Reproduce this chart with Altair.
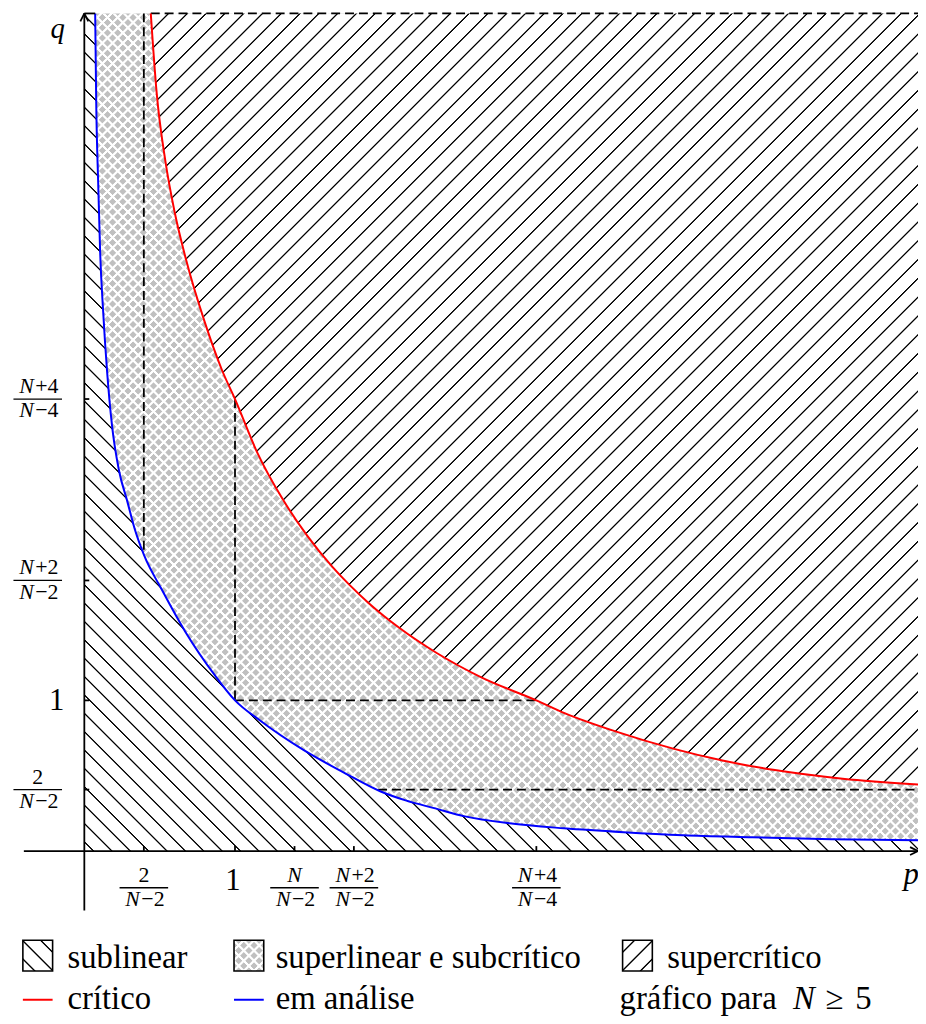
import math
import altair as alt
import pandas as pd

# ---------------- values ----------------
# blue curve ("em análise"), coordinates (p, q)
BLUE_P = [0.072, 0.079, 0.092, 0.105, 0.125, 0.151, 0.184, 0.230, 0.283, 0.336,
          0.395, 0.513, 0.671, 0.868, 1.000, 1.164, 1.454, 1.737, 1.967, 2.132,
          2.329, 2.526, 2.822, 3.184, 3.579, 3.974, 4.434, 4.961, 5.533]
BLUE_Q = [5.559, 4.961, 4.434, 3.974, 3.579, 3.184, 2.822, 2.526, 2.329, 2.132,
          1.967, 1.737, 1.454, 1.164, 1.000, 0.868, 0.671, 0.513, 0.395, 0.336,
          0.283, 0.230, 0.184, 0.151, 0.125, 0.105, 0.092, 0.079, 0.072]
# red curve ("crítico")
RED_P = [0.441, 0.480, 0.539, 0.599, 0.678, 0.796, 0.914, 1.000, 1.151, 1.316,
         1.480, 1.645, 1.763, 1.888, 2.092, 2.336, 2.638, 3.000, 3.191, 3.520,
         3.914, 4.243, 4.572, 5.033, 5.533]
RED_Q = [5.559, 5.033, 4.572, 4.243, 3.914, 3.520, 3.191, 3.000, 2.638, 2.336,
         2.092, 1.888, 1.763, 1.645, 1.480, 1.316, 1.151, 1.000, 0.914, 0.796,
         0.678, 0.599, 0.539, 0.480, 0.441]
Q_TOP = 5.559   # upper limit of the drawn region
P_END = 5.533   # right limit of the drawn region

X_TICKS = [0.395, 1.0, 1.395, 1.789, 3.0]
X_TICK_NUM = ["2", "1", "N", "N+2", "N+4"]
X_TICK_DEN = ["N−2", "", "N−2", "N−2", "N−4"]
Y_TICKS = [0.408, 1.0, 1.796, 3.0]
Y_TICK_NUM = ["2", "1", "N+2", "N+4"]
Y_TICK_DEN = ["N−2", "", "N−2", "N−4"]

# dashed guide segments
GUIDE_P1 = [0.395, 1.0, 1.0, 1.95, 0.441]
GUIDE_Q1 = [Q_TOP, 3.0, 1.0, 0.408, Q_TOP]
GUIDE_P2 = [0.395, 1.0, 3.0, P_END, P_END]
GUIDE_Q2 = [1.967, 1.0, 1.0, 0.408, Q_TOP]

LEGEND_AREAS = ["sublinear", "superlinear e subcrítico", "supercrítico"]
LEGEND_LINES = ["crítico", "em análise"]

# ---------------- layout ----------------
K = 152.0                 # pixels per unit (both axes)
OX, OY = 85.0, 854.0      # page position of the origin
W, H = 918, 1016
FONT = "Liberation Serif"


def ux(px):
    return (px - OX) / K


def uy(py):
    return (OY - py) / K


XS = alt.Scale(domain=[ux(8), ux(8 + W)], nice=False, zero=False)
YS = alt.Scale(domain=[uy(8 + H), uy(8)], nice=False, zero=False)


def ex(f):
    return alt.X(f, type="quantitative", scale=XS, axis=None)


def ey(f):
    return alt.Y(f, type="quantitative", scale=YS, axis=None)


def hatch(w, h, lines_dir, spacing, lw, ink, paper):
    r = math.sqrt(0.5)
    nx, ny = (r, -r) if lines_dir == "\\" else (r, r)
    a, b = nx * w, ny * h
    corners = [(0.0, 0.0), (1.0, 0.0), (0.0, 1.0), (1.0, 1.0)]
    s = [a * u + b * v for u, v in corners]
    i0 = s.index(min(s))
    L = max(s) - min(s)
    lam = L / (a * a + b * b)
    u0, v0 = corners[i0]
    stops = [alt.GradientStop(color=paper, offset=0)]
    half, edge = lw / 2.0, 0.35
    c = L / 2 - math.floor((L / 2) / spacing) * spacing
    while c < L:
        for off, col in [(c - half - edge, paper), (c - half + edge, ink),
                         (c + half - edge, ink), (c + half + edge, paper)]:
            o = round(min(max(off / L, 0.0), 1.0), 5)
            stops.append(alt.GradientStop(color=col, offset=o))
        c += spacing
    stops.append(alt.GradientStop(color=paper, offset=1))
    return alt.LinearGradient(gradient="linear", stops=stops,
                              x1=u0, y1=v0, x2=u0 + lam * a, y2=v0 + lam * b)


GRAY = "#c0c0c0"
CLEAR = "rgba(255,255,255,0)"
X_SP, X_LW = 7.3, 2.2     # cross-hatch spacing / white line width

# ---------------- regions ----------------
df_sub = pd.DataFrame({"p": [0.0] + BLUE_P, "lo": 0.0, "hi": [Q_TOP] + BLUE_Q})
df_gray = pd.DataFrame({"p": BLUE_P, "lo": BLUE_Q, "hi": Q_TOP})
df_sup = pd.DataFrame({"p": RED_P, "lo": RED_Q, "hi": Q_TOP})

w_sub, h_sub = P_END * K, Q_TOP * K
w_gray, h_gray = (P_END - min(BLUE_P)) * K, (Q_TOP - min(BLUE_Q)) * K
w_sup, h_sup = (P_END - min(RED_P)) * K, (Q_TOP - min(RED_Q)) * K


def area(df, fill):
    return alt.Chart(df).mark_area(fill=fill, interpolate="monotone", strokeWidth=0).encode(
        x=ex("p"), y=ey("lo"), y2=alt.Y2("hi"))


layers = [
    area(df_sub, hatch(w_sub, h_sub, "\\", 13.1, 1.3, "black", "white")),
    area(df_gray, hatch(w_gray, h_gray, "/", X_SP, X_LW, "white", GRAY)),
    area(df_gray, hatch(w_gray, h_gray, "\\", X_SP, X_LW, "white", CLEAR)),
    area(df_sup, hatch(w_sup, h_sup, "/", 13.4, 1.3, "black", "white")),
]

# dashed guides
df_guides = pd.DataFrame({"p1": GUIDE_P1, "q1": GUIDE_Q1, "p2": GUIDE_P2, "q2": GUIDE_Q2})
layers.append(alt.Chart(df_guides).mark_rule(color="black", strokeWidth=1.8, strokeDash=[9, 5]).encode(
    x=ex("p1"), y=ey("q1"), x2=alt.X2("p2"), y2=alt.Y2("q2")))

# curves
layers.append(alt.Chart(pd.DataFrame({"p": BLUE_P, "q": BLUE_Q})).mark_line(
    color="#0000ff", strokeWidth=2, interpolate="monotone").encode(x=ex("p"), y=ey("q")))
layers.append(alt.Chart(pd.DataFrame({"p": RED_P, "q": RED_Q})).mark_line(
    color="#ff0000", strokeWidth=2, interpolate="monotone").encode(x=ex("p"), y=ey("q")))

# axes, arrows, ticks
seg = []
seg.append((ux(24), 0.0, P_END, 0.0))                     # p axis
seg.append((0.0, uy(914), 0.0, uy(9)))                    # q axis
seg.append((0.0, Q_TOP, BLUE_P[0], Q_TOP))                # top edge of sublinear region
seg.append((0.0, uy(9), ux(81), uy(17)))                  # arrow q
seg.append((0.0, uy(9), ux(89), uy(17)))
seg.append((P_END, 0.0, ux(918), uy(850)))                # arrow p
seg.append((P_END, 0.0, ux(918), uy(858)))
for v in Y_TICKS:
    seg.append((0.0, v, ux(90), v))
for v in X_TICKS:
    seg.append((v, 0.0, v, uy(849)))
df_seg = pd.DataFrame(seg, columns=["p1", "q1", "p2", "q2"])
layers.append(alt.Chart(df_seg).mark_rule(color="black", strokeWidth=1.8).encode(
    x=ex("p1"), y=ey("q1"), x2=alt.X2("p2"), y2=alt.Y2("q2")))

# ---------------- text pieces: (x, y, text, size, style, align) ----------------
txt = []
bars = []
FS = 22


def put_part(cx, base, part):
    if part == "2":
        txt.append((cx, base, part, FS, "normal", "center"))
    elif part == "N":
        txt.append((cx, base, part, FS, "italic", "center"))
    else:
        txt.append((cx - 4 / K, base, part[0], FS, "italic", "right"))
        txt.append((cx - 2.5 / K, base, part[1:], FS, "normal", "left"))


def fraction(cx, bar, num, den):
    put_part(cx, bar + 6 / K, num)
    put_part(cx, bar - 18.5 / K, den)
    bars.append((cx - 24.5 / K, bar, cx + 24.5 / K, bar))


for v, n, d in zip(X_TICKS, X_TICK_NUM, X_TICK_DEN):
    if d:
        fraction(v, uy(891), n, d)
    else:
        txt.append((v - 2 / K, uy(893), n, 31, "normal", "center"))
for v, n, d in zip(Y_TICKS, Y_TICK_NUM, Y_TICK_DEN):
    if d:
        fraction(ux(38), v, n, d)
    else:
        txt.append((ux(57), v - 10 / K, n, 31, "normal", "center"))

txt.append((ux(58), uy(34), "q", 29, "italic", "center"))
txt.append((ux(919), uy(887), "p", 31, "italic", "center"))

# ---------------- legend ----------------
LS = 33
R1, R2 = 972, 1013
txt.append((ux(68), uy(R1), LEGEND_AREAS[0], LS, "normal", "left"))
txt.append((ux(278), uy(R1), LEGEND_AREAS[1], LS, "normal", "left"))
txt.append((ux(673), uy(R1), LEGEND_AREAS[2], LS, "normal", "left"))
txt.append((ux(68), uy(R2), LEGEND_LINES[0], LS, "normal", "left"))
txt.append((ux(278), uy(R2), LEGEND_LINES[1], LS, "normal", "left"))
txt.append((ux(625), uy(R2), "gráfico para", LS, "normal", "left"))
txt.append((ux(811), uy(R2), "N", LS, "italic", "center"))
txt.append((ux(842), uy(R2), "≥", LS, "normal", "center"))
txt.append((ux(871), uy(R2), "5", LS, "normal", "center"))

SW_Y1, SW_Y2 = 944, 975


def swatch(x1, fills, stroke):
    out = []
    df = pd.DataFrame({"a": [ux(x1)], "b": [ux(x1 + 30)], "c": [uy(SW_Y1)], "d": [uy(SW_Y2)]})
    for i, f in enumerate(fills):
        last = i == len(fills) - 1
        kw = dict(fill=f)
        if last:
            kw.update(stroke=stroke, strokeWidth=1.6)
        out.append(alt.Chart(df).mark_rect(**kw).encode(
            x=ex("a"), x2=alt.X2("b"), y=ey("c"), y2=alt.Y2("d")))
    return out


sw_w, sw_h = 30, SW_Y2 - SW_Y1
layers += swatch(23, [hatch(sw_w, sw_h, "\\", 13, 1.4, "black", "white")], "black")
layers += swatch(236, [hatch(sw_w, sw_h, "/", X_SP, X_LW, "white", GRAY),
                       hatch(sw_w, sw_h, "\\", X_SP, X_LW, "white", CLEAR)], "black")
layers += swatch(628, [hatch(sw_w, sw_h, "/", 13, 1.4, "black", "white")], "black")

df_leg_lines = pd.DataFrame({"p1": [ux(23), ux(236)], "p2": [ux(53), ux(266)],
                             "q": [uy(R2 - 9), uy(R2 - 9)], "c": ["#ff0000", "#0000ff"]})
layers.append(alt.Chart(df_leg_lines).mark_rule(strokeWidth=2).encode(
    x=ex("p1"), x2=alt.X2("p2"), y=ey("q"), color=alt.Color("c:N", scale=None)))

# fraction bars
df_bars = pd.DataFrame(bars, columns=["p1", "q1", "p2", "q2"])
layers.append(alt.Chart(df_bars).mark_rule(color="black", strokeWidth=1.3).encode(
    x=ex("p1"), y=ey("q1"), x2=alt.X2("p2"), y2=alt.Y2("q2")))

df_txt = pd.DataFrame(txt, columns=["x", "y", "t", "s", "style", "align"])
for style in ["normal", "italic"]:
    for align in ["left", "center", "right"]:
        sub = df_txt[(df_txt["style"] == style) & (df_txt["align"] == align)]
        if len(sub) == 0:
            continue
        layers.append(alt.Chart(sub[["x", "y", "t", "s"]]).mark_text(
            font=FONT, align=align, baseline="alphabetic", fontStyle=style, color="black").encode(
            x=ex("x"), y=ey("y"), text="t:N",
            size=alt.Size("s:Q", scale=None, legend=None)))

chart = alt.layer(*layers).properties(
    width=W, height=H, padding=0, autosize=alt.AutoSizeParams(type="none"),
    background="white").configure_view(stroke=None)

chart.save("out.html", embed_options={"renderer": "svg", "actions": False})
